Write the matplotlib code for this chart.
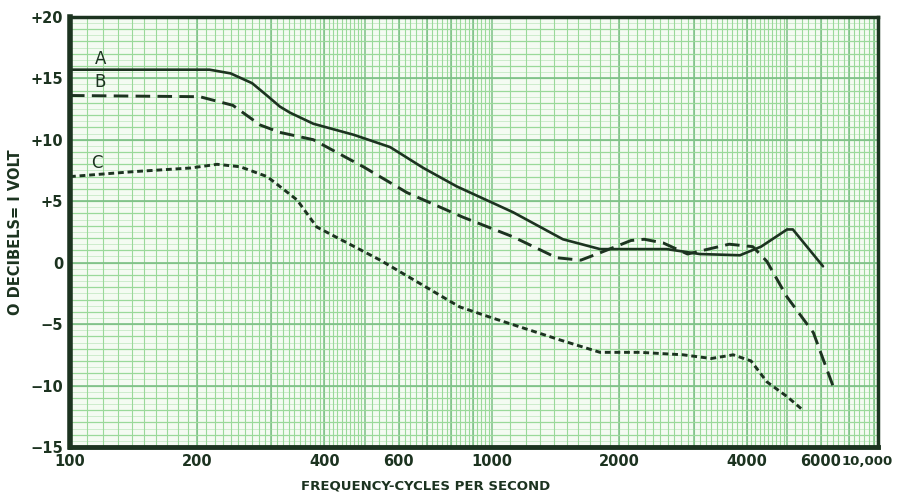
import numpy as np
import matplotlib
matplotlib.use("Agg")
import matplotlib.pyplot as plt

# curve A (solid)
freq_a = [100, 214, 240, 270, 295, 314, 332, 377, 470, 573, 687, 824, 1120,
          1470, 1800, 2130, 2590, 3100, 3860, 4330, 4990, 5150, 6070]
db_a = [15.7, 15.7, 15.4, 14.6, 13.5, 12.7, 12.2, 11.3, 10.4, 9.4, 7.7, 6.2, 4.1,
        1.9, 1.1, 1.1, 1.1, 0.7, 0.6, 1.3, 2.7, 2.7, -0.3]

# curve B (dashed)
freq_b = [100, 203, 243, 282, 314, 377, 495, 628, 852, 1120, 1420, 1620, 1800,
          2130, 2290, 2540, 2900, 3640, 4140, 4470, 4990, 5760, 6420]
db_b = [13.6, 13.5, 12.8, 11.2, 10.6, 10.0, 7.8, 5.7, 3.7, 2.1, 0.4, 0.2, 0.8,
        1.8, 1.9, 1.6, 0.7, 1.5, 1.3, 0.1, -2.8, -5.7, -10.1]

# curve C (short dashes)
freq_c = [100, 141, 193, 223, 253, 293, 314, 345, 384, 543, 837, 1000, 1450,
          1800, 2240, 2830, 3300, 3720, 4100, 4470, 4990, 5440]
db_c = [7.0, 7.4, 7.7, 8.0, 7.8, 7.0, 6.2, 5.1, 2.9, 0.2, -3.6, -4.5, -6.3,
        -7.3, -7.3, -7.5, -7.8, -7.5, -8.0, -9.7, -10.9, -12.0]

x_ticks = [100, 200, 400, 600, 1000, 2000, 4000, 6000]
x_labels = ["100", "200", "400", "600", "1000", "2000", "4000", "6000"]
y_ticks = [20, 15, 10, 5, 0, -5, -10, -15]
y_labels = ["+20", "+15", "+10", "+5", "0", "\u22125", "\u221210", "\u221215"]

ink = "#1c3320"
grid_col = "#9ad99a"

fig = plt.figure(figsize=(8.97, 4.95), dpi=100)
fig.patch.set_facecolor("white")
ax = fig.add_axes([0.078, 0.097, 0.901, 0.869])
ax.set_facecolor("#f4fbf2")
ax.set_xscale("log")
ax.set_xlim(100, 8200)
ax.set_ylim(-15, 20)

# graph paper
mid_x = list(np.arange(110, 500, 10)) + list(np.arange(520, 1000, 20)) + \
    list(np.arange(1100, 5000, 100)) + list(np.arange(5200, 8200, 200))
for v in mid_x:
    ax.axvline(v, color=grid_col, lw=0.8, zorder=0)
for v in [100, 200, 300, 400, 500, 600, 700, 800, 900, 1000, 2000, 3000,
          4000, 5000, 6000, 7000, 8000]:
    ax.axvline(v, color="#7cbf86", lw=1.1, zorder=0)
for v in np.arange(-15, 20.01, 0.5):
    ax.axhline(v, color=grid_col, lw=0.5, alpha=0.6, zorder=0)
for v in np.arange(-15, 21, 1):
    ax.axhline(v, color=grid_col, lw=0.9, zorder=0)
for v in np.arange(-15, 21, 5):
    ax.axhline(v, color="#7cbf86", lw=1.2, zorder=0)

ax.plot(freq_a, db_a, color=ink, lw=1.9, solid_capstyle="round")
ax.plot(freq_b, db_b, color=ink, lw=2.1, dashes=(5, 2.5))
ax.plot(freq_c, db_c, color=ink, lw=2.1, dashes=(2, 1.3))

ax.text(118, 16.6, "A", fontsize=12, color=ink, ha="center", va="center")
ax.text(118, 14.7, "B", fontsize=12, color=ink, ha="center", va="center")
ax.text(116, 8.1, "C", fontsize=12, color=ink, ha="center", va="center")

ax.set_xticks(x_ticks)
ax.set_xticklabels(x_labels)
ax.xaxis.set_minor_locator(matplotlib.ticker.NullLocator())
ax.set_yticks(y_ticks)
ax.set_yticklabels(y_labels)
ax.tick_params(length=0, labelsize=10.5, labelcolor=ink, pad=5)
for lab in ax.get_xticklabels() + ax.get_yticklabels():
    lab.set_fontweight("bold")
fig.text(0.995, 0.097 - 0.018 * 0.869, "10,000", ha="right", va="top",
         fontsize=9.5, fontweight="bold", color=ink)

for side in ax.spines.values():
    side.set_color(ink)
    side.set_linewidth(2.5)
ax.spines["left"].set_linewidth(4)
ax.spines["bottom"].set_linewidth(3.5)

ax.set_xlabel("FREQUENCY-CYCLES PER SECOND", fontsize=9.5, fontweight="bold",
              color=ink)
ax.xaxis.set_label_coords(0.44, -0.075)
ax.set_ylabel("O DECIBELS= I VOLT", fontsize=10.5, fontweight="bold",
              color=ink)
ax.yaxis.set_label_coords(-0.058, 0.5)

fig.savefig("out.png", dpi=100)
